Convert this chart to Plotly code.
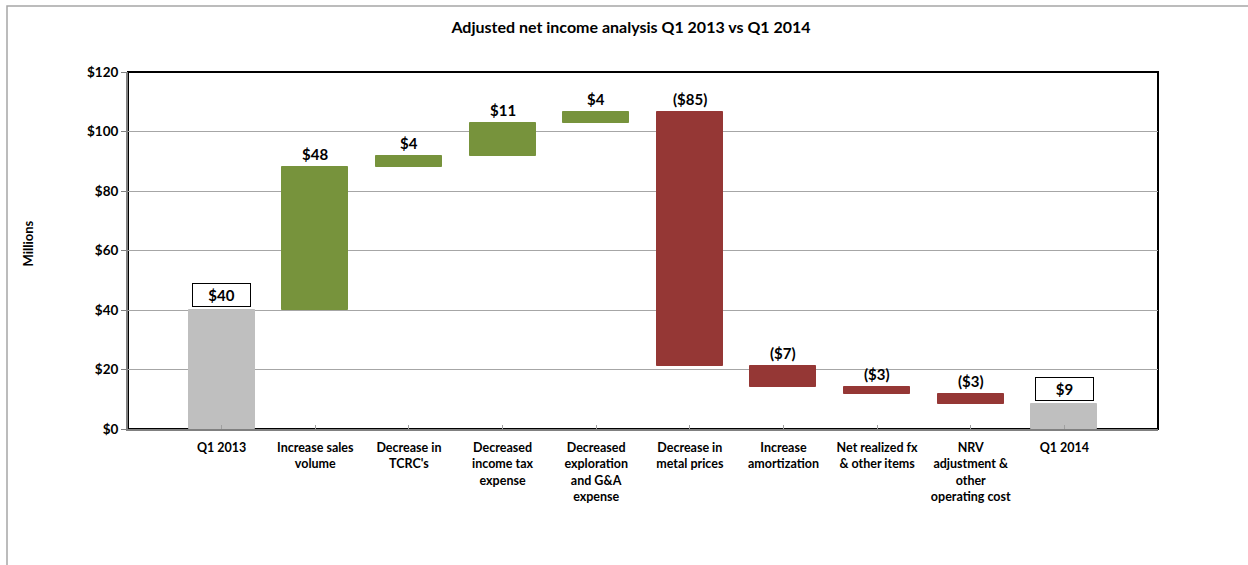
import plotly.graph_objects as go

categories = ["Q1 2013", "Increase sales<br>volume", "Decrease in<br>TCRC's",
              "Decreased<br>income tax<br>expense", "Decreased<br>exploration<br>and G&A<br>expense",
              "Decrease in<br>metal prices", "Increase<br>amortization",
              "Net realized fx<br>& other items", "NRV<br>adjustment &<br>other<br>operating cost",
              "Q1 2014"]
start_value = 40.0
changes = [48.0, 3.9, 10.9, 3.6, -85.2, -7.0, -2.6, -3.2]
labels = ["$40", "$48", "$4", "$11", "$4", "($85)", "($7)", "($3)", "($3)", "$9"]
y_ticks = [0, 20, 40, 60, 80, 100, 120]
y_tick_labels = ["$0", "$20", "$40", "$60", "$80", "$100", "$120"]

GREY = "#BFBFBF"
GREEN = "#77933C"
RED = "#953735"
FONT = "Lato"

# compute bar bases and heights
bases, heights, colors = [0.0], [start_value], [GREY]
running = start_value
for c in changes:
    if c >= 0:
        bases.append(running); heights.append(c); colors.append(GREEN)
    else:
        bases.append(running + c); heights.append(-c); colors.append(RED)
    running += c
end_value = running
bases.append(0.0); heights.append(end_value); colors.append(GREY)
tops = [b + h for b, h in zip(bases, heights)]

x_idx = list(range(len(categories)))

fig = go.Figure()
fig.add_trace(go.Bar(
    x=x_idx, y=heights, base=bases, width=0.705,
    marker=dict(color=colors, line=dict(color=colors, width=1)),
    hoverinfo="skip", showlegend=False,
))

annotations = []
for i, (t, lab) in enumerate(zip(tops, labels)):
    is_total = i == 0 or i == len(categories) - 1
    if is_total:
        annotations.append(dict(
            x=i, y=t, xref="x", yref="y", text=lab, showarrow=False,
            yanchor="bottom", yshift=3,
            font=dict(family=FONT, size=15, color="black", weight="bold"),
            bordercolor="black", borderwidth=1, borderpad=2, width=53, height=18,
            bgcolor="white",
        ))
    else:
        annotations.append(dict(
            x=i, y=t, xref="x", yref="y", text=lab, showarrow=False,
            yanchor="bottom", yshift=2,
            font=dict(family=FONT, size=15, color="black", weight="bold"),
        ))

annotations.append(dict(
    text="Millions", xref="paper", yref="paper", x=-0.097, y=0.52,
    textangle=-90, showarrow=False, xanchor="center", yanchor="middle",
    font=dict(family=FONT, size=13, color="black", weight="bold"),
))

L, R, T, B = 128, 90, 72, 136
W, H = 1248, 565
pw, ph = W - L - R, H - T - B

shapes = [
    # outer chart border
    dict(type="rect", xref="paper", yref="paper",
         x0=(7 - L) / pw, x1=(1300 - L) / pw,
         y0=-(600 - T - ph) / ph, y1=1 + (T - 6) / ph,
         line=dict(color="#A6A6A6", width=1.5), layer="below"),
    # plot area frame
    dict(type="rect", xref="paper", yref="paper", x0=0, x1=1, y0=0, y1=1,
         line=dict(color="black", width=2), layer="below"),
]

fig.update_layout(
    width=W, height=H,
    margin=dict(l=L, r=R, t=T, b=B),
    paper_bgcolor="white", plot_bgcolor="white",
    title=dict(text="Adjusted net income analysis Q1 2013 vs Q1 2014",
               x=(631) / W, xanchor="center", y=1 - 27 / H, yanchor="middle",
               font=dict(family=FONT, size=16, color="black", weight="bold")),
    xaxis=dict(range=[-1, 10], tickvals=x_idx, ticktext=categories,
               tickfont=dict(family=FONT, size=12.5, color="black", weight="bold"),
               showgrid=False, showline=True, linecolor="#808080", linewidth=2,
               ticks="inside", ticklen=4, tickcolor="#A0A0A0", zeroline=False,
               ticklabelstandoff=6, fixedrange=True),
    yaxis=dict(range=[0, 120], tickvals=y_ticks, ticktext=y_tick_labels,
               tickfont=dict(family=FONT, size=13.5, color="black", weight="bold"),
               showgrid=True, gridcolor="#A6A6A6", gridwidth=1,
               showline=True, linecolor="#808080", linewidth=2,
               ticks="outside", ticklen=5, tickcolor="#808080", zeroline=False,
               fixedrange=True),
    annotations=annotations,
    shapes=shapes,
    bargap=0,
)

fig.write_html("out.html", config={"displayModeBar": False})
